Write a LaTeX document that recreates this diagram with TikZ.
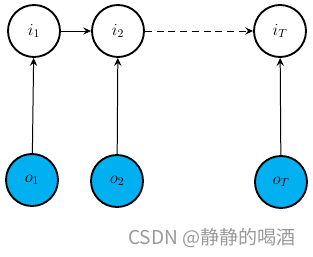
\documentclass[tikz,border=0pt]{standalone}
\usepackage{fontspec}
\newfontfamily\cjk{Noto Sans CJK SC}
\usetikzlibrary{arrows.meta}
\definecolor{ccyan}{HTML}{00B0F0}
\definecolor{cgrey}{HTML}{9A9A9A}
\tikzset{
  every picture/.style={line width=0.85pt},
  hid/.style={circle, draw=black, fill=#1, line width=1.6pt, minimum size=1.56cm, inner sep=0pt, font=\Large},
  hid/.default=white,
  arrow/.style={-{Stealth[length=2.4mm, width=2.2mm, inset=0.9mm]}, draw=black, line width=0.85pt},
  note/.style={font=\cjk\fontsize{16.3}{18}\selectfont, text=cgrey},
}
\begin{document}
\begin{tikzpicture}[x=0.03cm, y=-0.03cm, obs/.style={hid=ccyan}]
  \useasboundingbox (0,0) rectangle (313,257);
  \foreach \t/\xi/\xo/\yo in {1/34/32/180, 2/118/117/181, T/280/281/182} {
    \node[hid] (i\t) at (\xi,31) {$i_\t$};
    \node[obs] (o\t) at (\xo,\yo) {$o_\t$};
    \draw[arrow] (o\t) -- (i\t);
  }
  \draw[arrow] (i1) -- (i2);
  \draw[arrow, dash pattern=on 6pt off 4pt] (i2) -- (iT);
  % watermark
  \node[note] (wm) at (212,238) {CSDN @静静的喝酒};
\end{tikzpicture}
\end{document}
